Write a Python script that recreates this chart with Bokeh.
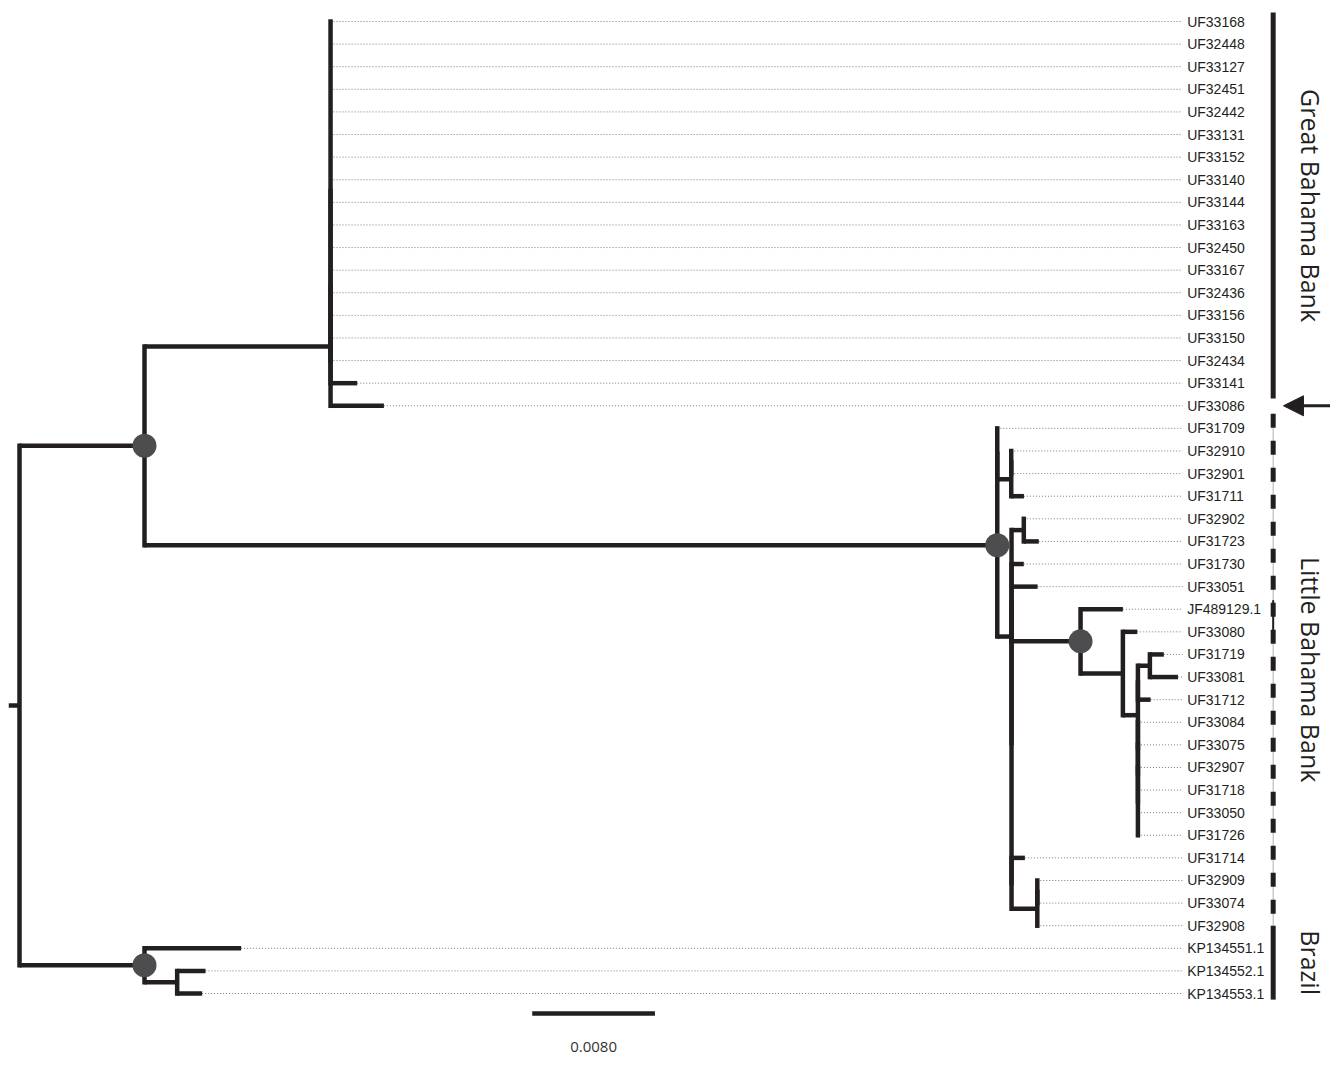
import numpy as np
from bokeh.plotting import figure
from bokeh.models import Range1d, Arrow, NormalHead
from bokeh.embed import file_html
from bokeh.resources import INLINE
from bokeh.core.properties import value

# ---------------- data ----------------
tip_labels = ["UF33168", "UF32448", "UF33127", "UF32451", "UF32442", "UF33131", "UF33152",
              "UF33140", "UF33144", "UF33163", "UF32450", "UF33167", "UF32436", "UF33156",
              "UF33150", "UF32434", "UF33141", "UF33086",
              "UF31709", "UF32910", "UF32901", "UF31711", "UF32902", "UF31723", "UF31730",
              "UF33051", "JF489129.1", "UF33080", "UF31719", "UF33081", "UF31712", "UF33084",
              "UF33075", "UF32907", "UF31718", "UF33050", "UF31726", "UF31714", "UF32909",
              "UF33074", "UF32908",
              "KP134551.1", "KP134552.1", "KP134553.1"]
tip_parent = (["P"] * 16 + ["GB1", "GB"] +
              ["LB1", "B1a", "B1a", "B1", "D", "D", "C2", "C2", "E", "F", "H", "H", "G1", "G2",
               "G3", "G4", "G4", "G4", "G4", "C3", "I1", "I1", "I"] +
              ["BR", "BR2", "BR2"])
tip_length = ([0.0] * 16 + [0.00174, 0.00348] +
              [0.0, 0.0, 0.0, 0.00083, 0.0, 0.00098, 0.00080, 0.00170, 0.00276, 0.00094,
               0.00091, 0.00183, 0.00083, 0.0, 0.0, 0.0, 0.0, 0.0, 0.0, 0.00087, 0.0, 0.0, 0.0] +
              [0.00630, 0.00185, 0.00163])

node_ids = ["root", "A", "GB", "GB1", "P", "LB", "LB1", "B1", "B1a", "C", "D", "C1", "C2",
            "E", "F", "G", "G1", "H", "G2", "G3", "G4", "C3", "I", "I1", "BR", "BR2"]
node_parent = [None, "root", "A", "GB", "GB1", "A", "LB", "LB1", "B1", "LB", "C", "C", "C1",
               "C2", "E", "F", "G", "G1", "G", "G2", "G3", "C1", "C3", "I", "root", "BR"]
node_length = [0.0, 0.00815, 0.01213, 0.0, 0.0, 0.05560, 0.0, 0.00091, 0.0, 0.00093, 0.00080,
               0.0, 0.0, 0.00450, 0.00276, 0.00098, 0.0, 0.00078, 0.0, 0.0, 0.0, 0.0, 0.00168,
               0.0, 0.00815, 0.00213]
root_stub = 0.00070
supported_nodes = ["A", "LB", "E", "BR"]

group_names = ["Great Bahama Bank", "Little Bahama Bank", "Brazil"]
group_start = [-0.40, 17.35, 40.0]
group_end = [16.68, 40.0, 43.27]
marked_tip = "UF33086"
scale_length = 0.0080
scale_text = "0.0080"

# ---------------- layout ----------------
parent, blen = {}, {}
for n, pa, l in zip(node_ids, node_parent, node_length):
    parent[n], blen[n] = pa, l
for n, pa, l in zip(tip_labels, tip_parent, tip_length):
    parent[n], blen[n] = pa, l
children = {}
for n, pa in parent.items():
    if pa is not None:
        children.setdefault(pa, []).append(n)

ypos = {t: float(i) for i, t in enumerate(tip_labels)}


def get_y(n):
    if n not in ypos:
        ys = [get_y(c) for c in children[n]]
        ypos[n] = (min(ys) + max(ys)) / 2.0
    return ypos[n]


depth = {}


def get_depth(n):
    if n not in depth:
        depth[n] = 0.0 if parent[n] is None else get_depth(parent[n]) + blen[n]
    return depth[n]


for n in parent:
    get_y(n)
    get_depth(n)

hx0, hx1, hy = [], [], []
for n, pa in parent.items():
    if pa is not None:
        hx0.append(depth[pa]); hx1.append(depth[n]); hy.append(ypos[n])
vx, vy0, vy1 = [], [], []
for n, cs in children.items():
    ys = [ypos[c] for c in cs]
    vx.append(depth[n]); vy0.append(min(ys)); vy1.append(max(ys))

max_depth = max(depth[t] for t in tip_labels)
leader_end = max_depth + 0.00030
label_x = max_depth + 0.00060
bar_x = max_depth + 0.00621
group_label_x = max_depth + 0.00865
n_tips = len(tip_labels)

# ---------------- figure ----------------
px_per_unit = 15337.5
x_start = -19.0 / px_per_unit
W, H = 1330, 1067
row = 22.605
y_top = -21.0 / row
y_bottom = y_top + H / row

p = figure(width=W, height=H, output_backend="svg", toolbar_location=None,
           x_range=Range1d(x_start, x_start + W / px_per_unit),
           y_range=Range1d(y_bottom, y_top),
           x_axis_type=None, y_axis_type=None, min_border=0)
p.outline_line_color = None
p.xgrid.visible = False
p.ygrid.visible = False
p.background_fill_color = "white"

ink = "#231f20"

# dotted leaders
tip_d = [depth[t] for t in tip_labels]
p.segment(x0=tip_d, y0=list(range(n_tips)), x1=[leader_end] * n_tips, y1=list(range(n_tips)),
          line_color="#7a7a7a", line_width=1, line_dash="1 2")

# branches
p.segment(x0=vx, y0=vy0, x1=vx, y1=vy1, line_color=ink, line_width=4.5, line_cap="square")
p.segment(x0=hx0, y0=hy, x1=hx1, y1=hy, line_color=ink, line_width=4.5, line_cap="butt")
p.segment(x0=[-root_stub], y0=[ypos["root"]], x1=[0.0], y1=[ypos["root"]],
          line_color=ink, line_width=4.5)

# support circles
p.scatter(x=[depth[n] for n in supported_nodes], y=[ypos[n] for n in supported_nodes],
          size=24, fill_color="#4d4d4f", line_color=None)

# tip labels
p.text(x=[label_x] * n_tips, y=list(range(n_tips)), text=tip_labels,
       text_font=value("Liberation Sans"), text_font_size="14px",
       text_baseline="middle", text_align="left", text_color=ink)

# group bars
p.segment(x0=[bar_x], y0=[group_start[1]], x1=[bar_x], y1=[group_end[1]],
          line_color="#b0b0b0", line_width=1)
p.segment(x0=[bar_x], y0=[group_start[1]], x1=[bar_x], y1=[group_end[1]],
          line_color=ink, line_width=5, line_dash="14 13")
p.segment(x0=[bar_x], y0=[25.6], x1=[bar_x], y1=[27.0], line_color=ink, line_width=2)
for i in (0, 2):
    p.segment(x0=[bar_x], y0=[group_start[i]], x1=[bar_x], y1=[group_end[i]],
              line_color=ink, line_width=5)

p.text(x=[group_label_x] * 3,
       y=[(a + b) / 2 for a, b in zip(group_start, group_end)],
       text=group_names, angle=-np.pi / 2,
       text_font=value("Open Sans"), text_font_size="25px",
       text_baseline="middle", text_align="center", text_color=ink)

# arrow pointing to the marked tip
ay = ypos[marked_tip]
p.add_layout(Arrow(end=NormalHead(size=20, fill_color=ink, line_color=ink),
                   x_start=x_start + W / px_per_unit, y_start=ay,
                   x_end=bar_x + 0.00067, y_end=ay, line_color=ink, line_width=3))

# scale bar
sb_x = 0.03343
sb_y = n_tips - 1 + 0.88
p.segment(x0=[sb_x], y0=[sb_y], x1=[sb_x + scale_length], y1=[sb_y],
          line_color=ink, line_width=4.5)
p.text(x=[sb_x + scale_length / 2], y=[sb_y + 1.5], text=[scale_text],
       text_font=value("Open Sans"), text_font_size="15px",
       text_baseline="middle", text_align="center", text_color="#333333")

open("out.html", "w").write(file_html(p, INLINE))
